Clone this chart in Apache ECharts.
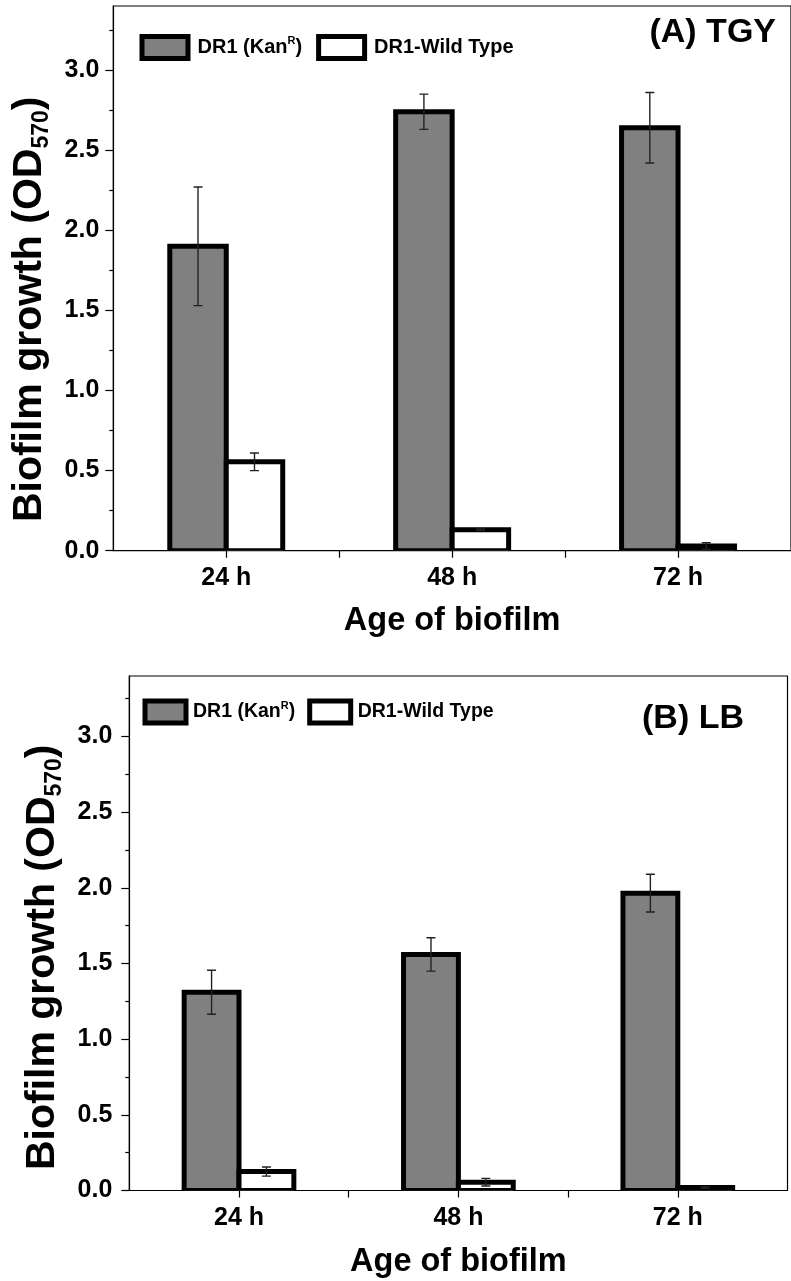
<!DOCTYPE html>
<html><head><meta charset="utf-8">
<script src="https://cdn.jsdelivr.net/npm/echarts@6/dist/echarts.min.js"></script>
<style>html,body{margin:0;padding:0;background:#fff}#c{width:791px;height:1281px}</style>
</head><body><div id="c"></div>
<script>
// ---- data ----
const categories = ['24 h', '48 h', '72 h'];
const yTickValues = [0, 0.5, 1, 1.5, 2, 2.5, 3];
const yMinorValues = [0.25, 0.75, 1.25, 1.75, 2.25, 2.75, 3.25];
const seriesNames = ['DR1 (KanR)', 'DR1-Wild Type'];
const panelTitles = ['(A) TGY', '(B) LB'];
// TGY panel
const tgyKan = [1.90, 2.74, 2.64];
const tgyKanErr = [0.37, 0.11, 0.22];
const tgyWild = [0.555, 0.13, 0.03];
const tgyWildErr = [0.055, 0.005, 0.02];
// LB panel
const lbKan = [1.31, 1.56, 1.965];
const lbKanErr = [0.145, 0.11, 0.125];
const lbWild = [0.125, 0.055, 0.02];
const lbWildErr = [0.03, 0.025, 0.005];

// ---- styling ----
const FONT = '"Liberation Sans", Arial, sans-serif';
const BAR_W = 0.25;          // bar width in category units
const GRAY = '#808080';

function barRender(side) {
  return function (params, api) {
    const x = api.value(0), y = api.value(1);
    const x0 = side < 0 ? x - BAR_W : x;
    const p0 = api.coord([x0, 0]);
    const p1 = api.coord([x0 + BAR_W, y]);
    return {
      type: 'rect',
      shape: { x: p0[0], y: p1[1], width: p1[0] - p0[0], height: p0[1] - p1[1] },
      style: { fill: api.visual('color'), stroke: '#000', lineWidth: 5, lineJoin: 'miter' }
    };
  };
}
function errRender(side) {
  return function (params, api) {
    const x = api.value(0) + side * BAR_W / 2, v = api.value(1), e = api.value(2);
    const lo = api.coord([x, v - e]), hi = api.coord([x, v + e]);
    const c = 4.5, st = { stroke: '#222', lineWidth: 1.4 };
    return {
      type: 'group', children: [
        { type: 'line', shape: { x1: lo[0], y1: lo[1], x2: hi[0], y2: hi[1] }, style: st },
        { type: 'line', shape: { x1: lo[0] - c, y1: lo[1], x2: lo[0] + c, y2: lo[1] }, style: st },
        { type: 'line', shape: { x1: hi[0] - c, y1: hi[1], x2: hi[0] + c, y2: hi[1] }, style: st }
      ]
    };
  };
}
const toBar = arr => arr.map((v, i) => [i + 1, v]);
const toErr = (arr, err) => arr.map((v, i) => [i + 1, v, err[i]]);

const grids = [
  { left: 113.3, right: -10.5, top: 6, height: 544.7, show: true, borderColor: '#000', borderWidth: 1.2 },
  { left: 129.3, right: 3.5, top: 676, height: 514.5, show: true, borderColor: '#000', borderWidth: 1.2 }
];

function xAxisFor(gi, gap) {
  return {
    gridIndex: gi, type: 'value', min: 0.5, max: 3.5, interval: 0.5,
    axisLine: { show: true, onZero: false, lineStyle: { color: '#000', width: 1.2 } },
    axisTick: { show: true, length: 7, lineStyle: { color: '#000', width: 1.2 } },
    splitLine: { show: false },
    axisLabel: {
      margin: 15, color: '#000', fontSize: 25, fontWeight: 'bold', fontFamily: FONT,
      showMinLabel: false, showMaxLabel: false,
      formatter: v => (Math.abs(v - Math.round(v)) < 1e-6 && categories[Math.round(v) - 1]) || ''
    },
    name: 'Age of biofilm', nameLocation: 'middle', nameGap: gap,
    nameTextStyle: { color: '#000', fontSize: 32.5, fontWeight: 'bold', fontFamily: FONT }
  };
}
function yAxisFor(gi, gap, margin, pad) {
  return [{
    gridIndex: gi, type: 'value', min: 0, max: 3.4, interval: 0.5,
    axisLine: { show: true, lineStyle: { color: '#000', width: 1.2 } },
    axisTick: { show: true, length: 8, customValues: yTickValues, lineStyle: { color: '#000', width: 1.2 } },
    splitLine: { show: false },
    axisLabel: {
      customValues: yTickValues, margin: margin, color: '#000', fontSize: 25, fontWeight: 'bold', fontFamily: FONT,
      formatter: v => v.toFixed(1)
    },
    name: '{a|Biofilm growth (OD}{s|570}{a|)}', nameLocation: 'middle', nameGap: gap, nameRotate: 90,
    nameTextStyle: {
      color: '#000', fontSize: 41, fontWeight: 'bold', fontFamily: FONT, padding: pad,
      rich: {
        a: { fontSize: 41, fontWeight: 'bold', fontFamily: FONT, color: '#000', lineHeight: 48, verticalAlign: 'middle' },
        s: { fontSize: 23, fontWeight: 'bold', fontFamily: FONT, color: '#000', lineHeight: 26, verticalAlign: 'bottom' }
      }
    }
  }, {
    gridIndex: gi, type: 'value', min: 0, max: 3.4, position: 'left',
    axisLine: { show: false },
    axisTick: { show: true, length: 4, customValues: yMinorValues, lineStyle: { color: '#000', width: 1.2 } },
    axisLabel: { show: false }, splitLine: { show: false }
  }];
}

function legendFor(left, top, fs, gap, iw, tpad) {
  return {
    left: left, top: top, orient: 'horizontal', itemWidth: iw, itemHeight: 22, itemGap: gap, padding: 0,
    selectedMode: false, icon: 'rect',
    data: [
      { name: seriesNames[0], itemStyle: { color: GRAY, borderColor: '#000', borderWidth: 5 } },
      { name: seriesNames[1], itemStyle: { color: '#fff', borderColor: '#000', borderWidth: 5 } }
    ],
    formatter: n => n === seriesNames[0] ? 'DR1 (Kan{sup|R})' : n,
    textStyle: {
      color: '#000', fontSize: fs, fontWeight: 'bold', fontFamily: FONT, padding: [0, 0, 0, tpad],
      rich: { sup: { fontSize: 11, fontWeight: 'bold', fontFamily: FONT, color: '#000', verticalAlign: 'top', lineHeight: 24 } }
    }
  };
}

function panelSeries(gi, kan, kanErr, wild, wildErr) {
  const ax = { xAxisIndex: gi, yAxisIndex: gi * 2 };
  return [
    Object.assign({ type: 'custom', name: seriesNames[0], renderItem: barRender(-1), data: toBar(kan),
      itemStyle: { color: GRAY }, clip: true, z: 2, encode: { x: 0, y: 1 } }, ax),
    Object.assign({ type: 'custom', name: seriesNames[1], renderItem: barRender(1), data: toBar(wild),
      itemStyle: { color: '#fff' }, clip: true, z: 2, encode: { x: 0, y: 1 } }, ax),
    Object.assign({ type: 'custom', name: 'err-kan-' + gi, renderItem: errRender(-1), data: toErr(kan, kanErr),
      z: 3, clip: true, encode: { x: 0, y: 1 } }, ax),
    Object.assign({ type: 'custom', name: 'err-wild-' + gi, renderItem: errRender(1), data: toErr(wild, wildErr),
      z: 3, clip: true, encode: { x: 0, y: 1 } }, ax)
  ];
}

const chart = echarts.init(document.getElementById('c'), null, { renderer: 'canvas' });
chart.setOption({
  animation: false,
  backgroundColor: '#fff',
  grid: grids,
  title: [
    { text: panelTitles[0], right: 15, top: 16, padding: 0, textStyle: { color: '#000', fontSize: 34, fontWeight: 'bold', fontFamily: FONT } },
    { text: panelTitles[1], left: 642, top: 702, padding: 0, textStyle: { color: '#000', fontSize: 34, fontWeight: 'bold', fontFamily: FONT } }
  ],
  legend: [legendFor(139.5, 34, 20, 14, 46, 4.5), legendFor(142.5, 698.5, 19.5, 12, 41, 2)],
  xAxis: [xAxisFor(0, 54), xAxisFor(1, 55)],
  yAxis: [].concat(yAxisFor(0, 60, 14, [0, 62, 0, 0]), yAxisFor(1, 48, 17, [0, 48, 0, 0])),
  series: [].concat(
    panelSeries(0, tgyKan, tgyKanErr, tgyWild, tgyWildErr),
    panelSeries(1, lbKan, lbKanErr, lbWild, lbWildErr)
  )
});
</script>
</body></html>
